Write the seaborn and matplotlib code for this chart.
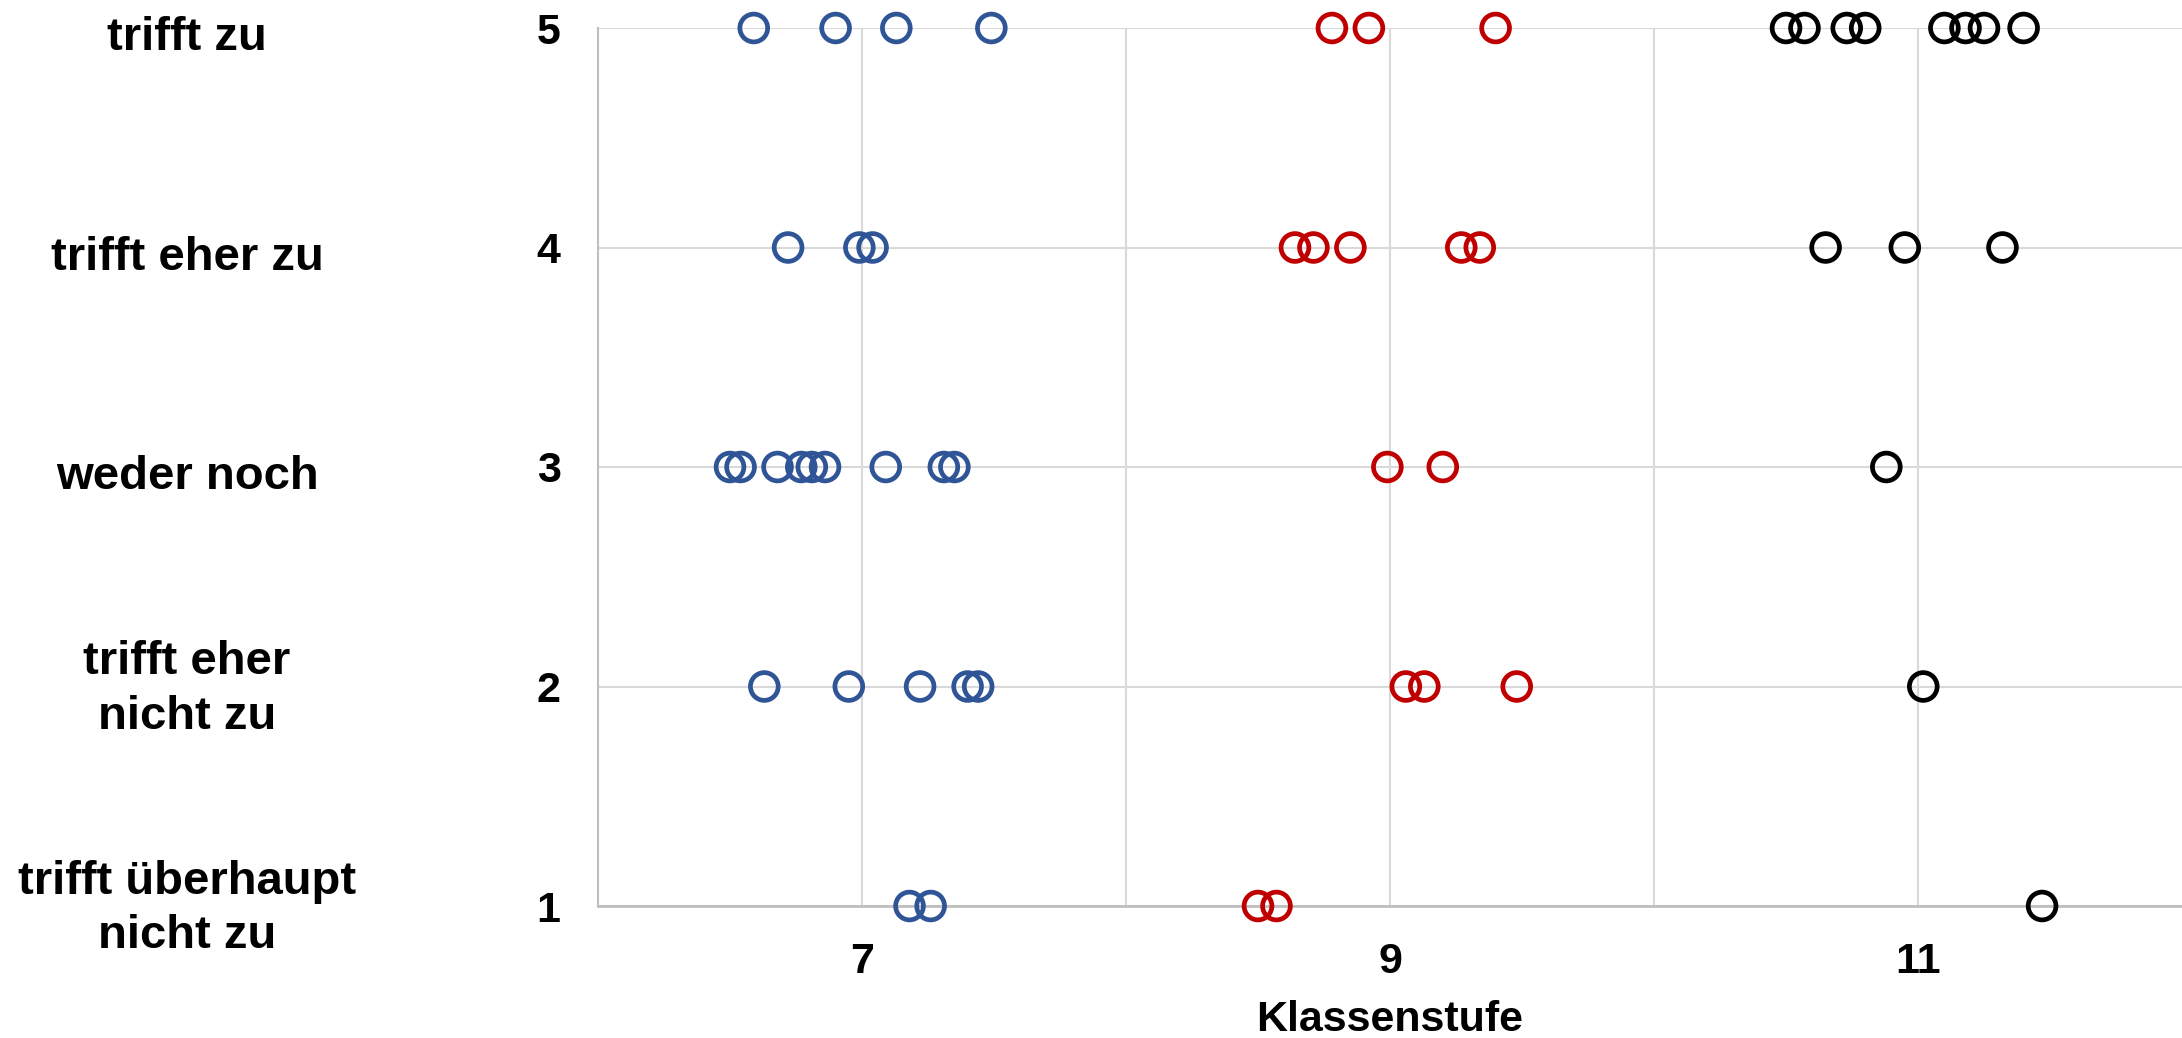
import matplotlib
matplotlib.use("Agg")
import matplotlib.pyplot as plt
import matplotlib.transforms as mtransforms
import seaborn as sns
import pandas as pd

# ---- data ----
categories = ["trifft überhaupt\nnicht zu", "trifft eher\nnicht zu", "weder noch",
              "trifft eher zu", "trifft zu"]
y_levels = [1, 2, 3, 4, 5]
x_ticks = [7, 9, 11]

# class 7 (blue)
blue_x = [6.59, 6.90, 7.13, 7.49,
          6.72, 6.99, 7.04,
          6.50, 6.54, 6.68, 6.77, 6.81, 6.86, 7.09, 7.31, 7.35,
          6.63, 6.95, 7.22, 7.40, 7.44,
          7.18, 7.26]
blue_y = [5, 5, 5, 5,
          4, 4, 4,
          3, 3, 3, 3, 3, 3, 3, 3, 3,
          2, 2, 2, 2, 2,
          1, 1]
# class 9 (red)
red_x = [8.78, 8.92, 9.40,
         8.64, 8.71, 8.85, 9.27, 9.34,
         8.99, 9.20,
         9.06, 9.13, 9.48,
         8.50, 8.57]
red_y = [5, 5, 5,
         4, 4, 4, 4, 4,
         3, 3,
         2, 2, 2,
         1, 1]
# class 11 (black)
black_x = [10.50, 10.57, 10.73, 10.80, 11.10, 11.18, 11.25, 11.40,
           10.65, 10.95, 11.32,
           10.88,
           11.02,
           11.47]
black_y = [5, 5, 5, 5, 5, 5, 5, 5,
           4, 4, 4,
           3,
           2,
           1]

groups = ["7", "9", "11"]
colors = {"7": "#2F5597", "9": "#C00000", "11": "#000000"}

df = pd.concat([
    pd.DataFrame({"Klassenstufe": blue_x, "Antwort": blue_y, "Gruppe": "7"}),
    pd.DataFrame({"Klassenstufe": red_x, "Antwort": red_y, "Gruppe": "9"}),
    pd.DataFrame({"Klassenstufe": black_x, "Antwort": black_y, "Gruppe": "11"}),
], ignore_index=True)

sns.set_theme(style="white")
plt.rcParams["font.family"] = ["Liberation Sans", "DejaVu Sans"]
plt.rcParams["font.weight"] = "bold"
plt.rcParams["text.color"] = "black"
plt.rcParams["xtick.color"] = "black"
plt.rcParams["ytick.color"] = "black"
plt.rcParams["axes.labelcolor"] = "black"

W, H = 2182, 1038
fig = plt.figure(figsize=(W / 100, H / 100), dpi=100)
left, right, top, bottom = 598, 2182, 28, 906
ax = fig.add_axes([left / W, 1 - bottom / H, (right - left) / W, (bottom - top) / H])

for g in groups:
    sub = df[df["Gruppe"] == g]
    sns.scatterplot(data=sub, x="Klassenstufe", y="Antwort", ax=ax,
                    color=colors[g], facecolor="none", edgecolor=colors[g],
                    s=400, linewidth=3.4, marker="o", clip_on=False, zorder=5,
                    legend=False)

ax.set_xlim(6, 12)
ax.set_ylim(1, 5)
ax.set_xticks(x_ticks)
ax.set_xticks([8, 10], minor=True)
ax.set_yticks(y_levels)
ax.set_xticklabels([str(t) for t in x_ticks], fontsize=31, fontweight="bold", color="black")
ax.set_yticklabels([str(v) for v in y_levels], fontsize=31, fontweight="bold", color="black")
ax.tick_params(axis="x", which="both", length=0, pad=26)
ax.tick_params(axis="y", which="both", length=0, pad=27)

ax.grid(True, which="both", color="#d9d9d9", linewidth=1.5)
ax.set_axisbelow(True)
for s in ["top", "right"]:
    ax.spines[s].set_visible(False)
ax.spines["left"].set_color("#bfbfbf")
ax.spines["left"].set_linewidth(1.5)
ax.spines["bottom"].set_color("#bfbfbf")
ax.spines["bottom"].set_linewidth(2)

ax.set_xlabel("")
ax.set_ylabel("")
fig.text((left + right) / 2 / W, 1 - 1031 / H, "Klassenstufe", ha="center",
         va="baseline", fontsize=31, fontweight="bold", color="black")

# category labels on the far left
trans = mtransforms.blended_transform_factory(fig.transFigure, ax.transData)
for lab, yv in zip(categories, y_levels):
    dy = -3 if "\n" in lab else -10
    offset = mtransforms.ScaledTranslation(0, dy / 100, fig.dpi_scale_trans)
    fig.text(187 / W, yv, lab, transform=trans + offset, ha="center", va="center",
             fontsize=34, fontweight="bold", linespacing=1.3, multialignment="center",
             color="black")

fig.savefig("out.png", dpi=100)
